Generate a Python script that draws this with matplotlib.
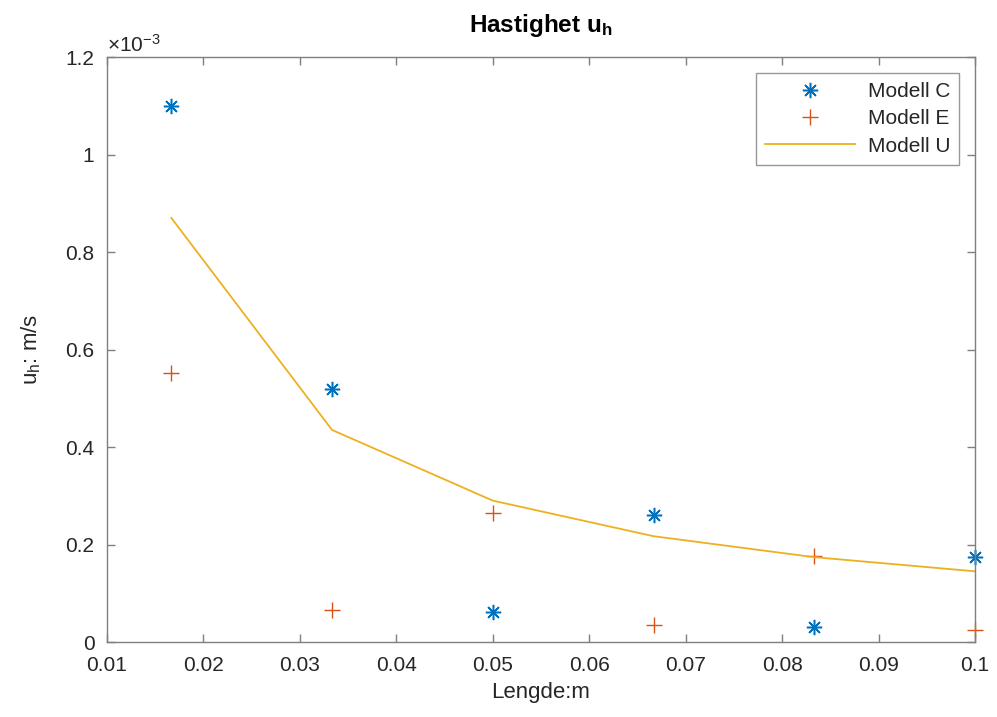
import matplotlib
matplotlib.use("Agg")
import matplotlib.pyplot as plt
from matplotlib.ticker import FuncFormatter, MultipleLocator

plt.rcParams['font.family'] = ['Liberation Sans', 'DejaVu Sans']
plt.rcParams['mathtext.fontset'] = 'custom'
plt.rcParams['mathtext.rm'] = 'Liberation Sans'
plt.rcParams['mathtext.it'] = 'Liberation Sans'
plt.rcParams['mathtext.bf'] = 'Liberation Sans:bold'

# Data
lengde = [1/60, 2/60, 3/60, 4/60, 5/60, 6/60]
modell_c = [1.100e-3, 0.520e-3, 0.062e-3, 0.260e-3, 0.031e-3, 0.174e-3]
modell_e = [0.551e-3, 0.066e-3, 0.265e-3, 0.035e-3, 0.176e-3, 0.024e-3]
modell_u = [0.870e-3, 0.435e-3, 0.290e-3, 0.217e-3, 0.174e-3, 0.145e-3]
labels = ['Modell C', 'Modell E', 'Modell U']

c_col = '#0072BD'
e_col = '#D95319'
u_col = '#EDB120'
ax_col = '#7f7f7f'

fig = plt.figure(figsize=(9.97, 7.17), dpi=100)
ax = fig.add_axes([0.1073, 0.1046, 0.8707, 0.8159])

ax.plot(lengde, modell_c, linestyle='none', marker=(8, 2, 0), markersize=11,
        markeredgewidth=1.1, color=c_col, label=labels[0], clip_on=False)
ax.plot(lengde, modell_e, linestyle='none', marker='+', markersize=12,
        markeredgewidth=1.0, color=e_col, label=labels[1], clip_on=False)
ax.plot(lengde, modell_u, linestyle='-', linewidth=1.3, color=u_col, label=labels[2])

ax.set_xlim(0.01, 0.1)
ax.set_ylim(0, 1.2e-3)
ax.xaxis.set_major_locator(MultipleLocator(0.01))
ax.yaxis.set_major_locator(MultipleLocator(0.2e-3))
ax.xaxis.set_major_formatter(FuncFormatter(lambda v, p: '%g' % round(v, 4)))
ax.yaxis.set_major_formatter(FuncFormatter(lambda v, p: '%g' % round(v * 1e3, 4)))

for s in ax.spines.values():
    s.set_color(ax_col)
    s.set_linewidth(1.0)
ax.tick_params(direction='in', length=6, width=1.0, color=ax_col,
               labelsize=15, labelcolor='#262626', top=True, right=True)
ax.tick_params(axis='x', pad=10)
ax.tick_params(axis='y', pad=9)

ax.text(0.0, 1.002, r'$\times 10^{-3}$', transform=ax.transAxes, fontsize=15,
        color='#262626', ha='left', va='bottom')

ax.set_title(r'Hastighet u$_{\mathbf{h}}$', fontsize=17.5, fontweight='bold',
             color='black', pad=18)
ax.set_xlabel('Lengde:m', fontsize=16, color='#262626', labelpad=5)
ax.set_ylabel(r'u$_\mathrm{h}$: m/s', fontsize=16, color='#262626', labelpad=16)

leg = ax.legend(loc='upper right', fontsize=15, frameon=True, fancybox=False,
                edgecolor=ax_col, borderaxespad=0.75, handlelength=4.3,
                markerfirst=True, borderpad=0.45, labelspacing=0.4,
                handletextpad=0.6)
leg.get_frame().set_linewidth(1.0)
for t in leg.get_texts():
    t.set_color('#262626')

fig.savefig('out.png', dpi=100)
